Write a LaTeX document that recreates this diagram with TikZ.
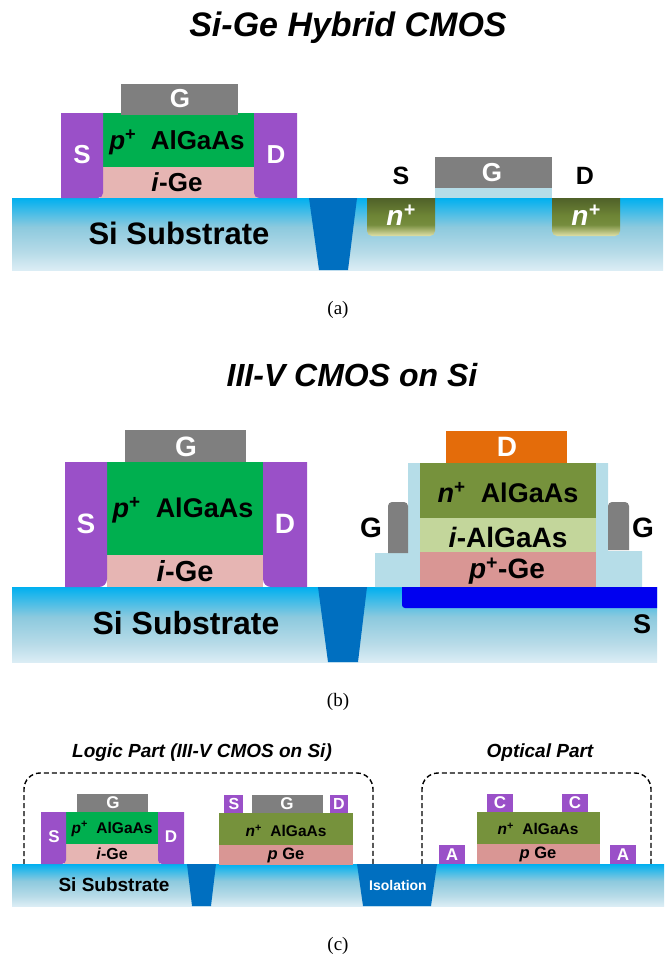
\documentclass[tikz,border=0pt]{standalone}
\usepackage{fontspec}
\setmainfont{Liberation Serif}
\newfontfamily\lsans{Liberation Sans}
\pgfdeclareverticalshading{subst}{100bp}{rgb(0bp)=(0.86,0.93,0.96);rgb(25bp)=(0.86,0.93,0.96);rgb(37bp)=(0.72,0.86,0.91);rgb(55bp)=(0.55,0.79,0.87);rgb(75bp)=(0,0.69,0.94);rgb(100bp)=(0,0.69,0.94)}
\pgfdeclareverticalshading{nplus}{100bp}{rgb(0bp)=(0.88,0.88,0.66);rgb(25bp)=(0.88,0.88,0.66);rgb(40bp)=(0.46,0.55,0.24);rgb(52bp)=(0.43,0.52,0.21);rgb(75bp)=(0.31,0.38,0.16);rgb(100bp)=(0.31,0.38,0.16)}
\definecolor{cgate}{HTML}{7F7F7F}
\definecolor{cmetal}{HTML}{9A50C8}
\definecolor{cgreen}{HTML}{00AF4F}
\definecolor{cpink}{HTML}{E6B5B3}
\definecolor{ctrench}{HTML}{006FC0}
\definecolor{cspacer}{HTML}{B6DDE8}
\definecolor{colive}{HTML}{76923C}
\definecolor{clime}{HTML}{C3D69B}
\definecolor{crose}{HTML}{D99694}
\definecolor{corange}{HTML}{E46C0A}
\definecolor{cblue}{HTML}{0000F0}
\tikzset{
  dark/.style={font=\lsans\bfseries\fontsize{#1}{#1}\selectfont,text=black,inner sep=0pt},
  light/.style={font=\lsans\bfseries\fontsize{#1}{#1}\selectfont,text=white,inner sep=0pt},
  ttl/.style={font=\lsans\bfseries\itshape\fontsize{#1}{#1}\selectfont,text=black,inner sep=0pt},
  captxt/.style={font=\fontsize{19}{19}\selectfont,text=black,inner sep=0pt},
  groupbox/.style={draw=black,line width=1.4pt,dash pattern=on 5pt off 3pt,rounded corners=16pt}
}
\newcommand{\bx}[5]{\fill[#5] (#1,#2) rectangle (#3,#4);}
\newcommand{\subs}[4]{\shade[shading=subst] (#1,#2) rectangle (#3,#4);}
\newcommand{\trp}[6]{\fill[ctrench] (#1,#5) -- (#2,#5) -- (#4,#6) -- (#3,#6) -- cycle;}
\newcommand{\pl}{\textsuperscript{+}}
\begin{document}
\begin{tikzpicture}[x=1pt,y=-1pt]
\useasboundingbox (0,0) rectangle (669,959);
% ---------- panel a
\node[ttl=34] (ta) at (348,28) {Si-Ge Hybrid CMOS};
\subs{12}{198}{663}{270}
\trp{309}{357}{319}{348}{198}{270}
\shade[shading=nplus] (367,198) -- (435,198) [rounded corners=5pt] -- (435,236) -- (367,236) [sharp corners] -- (367,198) -- cycle;
\shade[shading=nplus] (552,198) -- (620,198) [rounded corners=5pt] -- (620,236) -- (552,236) [sharp corners] -- (552,198) -- cycle;
\bx{100}{167}{258}{198}{cpink}
\bx{103}{113}{254}{167}{cgreen}
\bx{121}{84}{238}{115}{cgate}
\fill[cmetal] (61,113) -- (103,113) [rounded corners=5pt] -- (103,198) [sharp corners] -- (61,198) -- cycle;
\fill[cmetal] (297,113) -- (254,113) [rounded corners=5pt] -- (254,198) [sharp corners] -- (297,198) -- cycle;
\bx{435}{157}{552}{188}{cgate}
\bx{435}{188}{552}{198}{cspacer}
\node[light=26] (aG) at (180,99) {G};
\node[light=26] (aS) at (82,155) {S};
\node[light=26] (aD) at (276,155) {D};
\node[dark=26] (aP) at (177,142) {\textit{p}\pl\ \ AlGaAs};
\node[dark=26] (aI) at (177,182) {\textit{i}-Ge};
\node[dark=31] (aSub) at (179,233) {Si Substrate};
\node[dark=25] (aS2) at (401,176) {S};
\node[dark=25] (aD2) at (585,176) {D};
\node[light=26] (aG2) at (492,173) {G};
\node[light=22,font=\lsans\bfseries\itshape\fontsize{28}{28}\selectfont] (aN1) at (401,215) {n\pl};
\node[light=22,font=\lsans\bfseries\itshape\fontsize{28}{28}\selectfont] (aN2) at (586,215) {n\pl};
\node[captxt] (ca) at (338,310) {(a)};
% ---------- panel b
\node[ttl=32] (tb) at (352,375) {III-V CMOS on Si};
\subs{12}{587}{657}{662}
\trp{318}{367}{328}{358}{587}{662}
\bx{107}{555}{263}{587}{cpink}
\bx{107}{462}{263}{555}{cgreen}
\bx{125}{430}{246}{462}{cgate}
\fill[cmetal] (65,462) -- (107,462) [rounded corners=8pt] -- (107,587) [sharp corners] -- (65,587) -- cycle;
\fill[cmetal] (307,462) -- (263,462) [rounded corners=8pt] -- (263,587) [sharp corners] -- (307,587) -- cycle;
\fill[cspacer] (408,463) -- (608,463) -- (608,551) -- (642,551) -- (642,587) -- (375,587) -- (375,553) -- (408,553) -- cycle;
\bx{420}{552}{596}{587}{crose}
\bx{420}{518}{596}{552}{clime}
\bx{420}{463}{596}{518}{colive}
\bx{446}{431}{567}{463}{corange}
\fill[cgate] (408,553) -- (388,553) [rounded corners=4pt] -- (388,502) -- (408,502) [sharp corners] -- cycle;
\fill[cgate] (608,550) -- (629,550) [rounded corners=4pt] -- (629,502) -- (608,502) [sharp corners] -- cycle;
\fill[cblue] (657,587) -- (402,587) [rounded corners=3pt] -- (402,608) [sharp corners] -- (657,608) -- cycle;
\node[light=28] (bG) at (186,447) {G};
\node[light=28] (bS) at (86,524) {S};
\node[light=28] (bD) at (285,524) {D};
\node[dark=27] (bP) at (183,510) {\textit{p}\pl\ \ AlGaAs};
\node[dark=29] (bI) at (185,571) {\textit{i}-Ge};
\node[dark=32] (bSub) at (186,623) {Si Substrate};
\node[light=28] (bD2) at (507,447) {D};
\node[dark=27] (bN) at (508,493) {\textit{n}\pl\ \ AlGaAs};
\node[dark=28] (bI2) at (508,537) {\textit{i}-AlGaAs};
\node[dark=28] (bP2) at (507,571) {\textit{p}\pl-Ge};
\node[dark=28] (bG2) at (371,528) {G};
\node[dark=28] (bG3) at (643,528) {G};
\node[dark=27] (bS2) at (642,624) {S};
\node[captxt] (cb) at (338,702) {(b)};
% ---------- panel c
\node[ttl=19] (tl) at (202,753) {Logic Part (III-V CMOS on Si)};
\node[ttl=19] (to) at (540,753) {Optical Part};
\coordinate (l1) at (24,864); \coordinate (l2) at (24,773); \coordinate (l3) at (373,773); \coordinate (l4) at (373,864);
\coordinate (r1) at (422,864); \coordinate (r2) at (422,773); \coordinate (r3) at (651,773); \coordinate (r4) at (651,864);
\draw[groupbox] (l1) -- (l2) -- (l3) -- (l4);
\draw[groupbox] (r1) -- (r2) -- (r3) -- (r4);
\subs{12}{864}{664}{906}
\trp{187}{216}{192}{211}{864}{906}
\trp{357}{437}{363}{431}{864}{906}
\bx{64}{844}{160}{864}{cpink}
\bx{66}{812}{158}{844}{cgreen}
\bx{77}{794}{148}{812}{cgate}
\fill[cmetal] (41,812) -- (66,812) [rounded corners=4pt] -- (66,864) [sharp corners] -- (41,864) -- cycle;
\fill[cmetal] (184,812) -- (158,812) [rounded corners=4pt] -- (158,864) [sharp corners] -- (184,864) -- cycle;
\bx{219}{845}{353}{865}{crose}
\bx{219}{813}{353}{845}{colive}
\bx{224}{795}{243}{813}{cmetal}
\bx{252}{795}{323}{813}{cgate}
\bx{330}{795}{348}{813}{cmetal}
\bx{477}{844}{600}{864}{crose}
\bx{477}{812}{600}{844}{colive}
\bx{487}{794}{513}{812}{cmetal}
\bx{562}{794}{588}{812}{cmetal}
\bx{439}{845}{465}{864}{cmetal}
\bx{610}{845}{636}{864}{cmetal}
\node[light=17] (cG) at (113,803) {G};
\node[light=17] (cS) at (54,837) {S};
\node[light=17] (cD) at (171,837) {D};
\node[dark=15.5] (cP) at (112,829) {\textit{p}\pl\ \ AlGaAs};
\node[dark=16] (cI) at (112,854) {\textit{i}-Ge};
\node[dark=19] (cSub) at (114,885) {Si Substrate};
\node[light=16] (cS2) at (234,804) {S};
\node[light=17] (cG2) at (287,804) {G};
\node[light=16] (cD2) at (339,804) {D};
\node[dark=15.5] (cN) at (286,831) {\textit{n}\pl\ \ AlGaAs};
\node[dark=16.5] (cPG) at (286,855) {\textit{p} Ge};
\node[light=17] (cC1) at (500,803) {C};
\node[light=17] (cC2) at (575,803) {C};
\node[light=17] (cA1) at (452,855) {A};
\node[light=17] (cA2) at (623,855) {A};
\node[dark=15.5] (cN2) at (538,829) {\textit{n}\pl\ \ AlGaAs};
\node[dark=16.5] (cPG2) at (538,854) {\textit{p} Ge};
\node[light=14] (cIso) at (398,885) {Isolation};
\node[captxt] (cc) at (338,946) {(c)};
\end{tikzpicture}
\end{document}
